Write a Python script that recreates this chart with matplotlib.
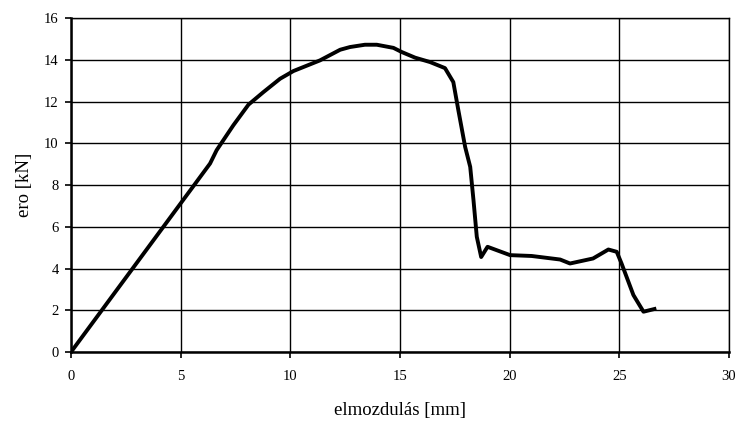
import matplotlib.pyplot as plt

# elmozdulas [mm] vs ero [kN]
x = [0, 6.34, 6.64, 7.4, 8.09, 8.77, 9.53, 10.14, 11.35, 12.27, 12.72, 13.4, 13.94,
     14.7, 15.08, 15.69, 16.37, 17.05, 17.43, 17.66, 17.97, 18.2, 18.35, 18.5, 18.7,
     18.99, 20.02, 21.0, 22.3, 22.75, 23.8, 24.5, 24.88, 25.1, 25.64, 26.1, 26.6]
y = [0, 9.03, 9.67, 10.86, 11.85, 12.45, 13.09, 13.46, 13.97, 14.48, 14.61, 14.72, 14.72,
     14.57, 14.37, 14.1, 13.89, 13.6, 12.93, 11.58, 9.82, 8.87, 7.27, 5.52, 4.55,
     5.04, 4.64, 4.6, 4.43, 4.24, 4.48, 4.91, 4.8, 4.24, 2.73, 1.93, 2.06]

xticks = [0, 5, 10, 15, 20, 25, 30]
yticks = [0, 2, 4, 6, 8, 10, 12, 14, 16]

plt.rcParams['font.family'] = 'Liberation Serif'

fig = plt.figure(figsize=(7.39, 4.21), dpi=100)
ax = fig.add_axes([0.0961, 0.1639, 0.8904, 0.7933])

ax.plot(x, y, color='black', linewidth=2.8, solid_joinstyle='round')

ax.set_xlim(0, 30)
ax.set_ylim(0, 16)
ax.set_xticks(xticks)
ax.set_yticks(yticks)
ax.grid(True, color='black', linewidth=1.0)
ax.set_axisbelow(True)

for side in ['top', 'right']:
    ax.spines[side].set_visible(True)
    ax.spines[side].set_linewidth(1.0)
for side in ['left', 'bottom']:
    ax.spines[side].set_linewidth(1.8)

ax.tick_params(axis='both', direction='out', length=4, width=1.2, color='black',
               labelsize=10.5)
ax.tick_params(axis='x', pad=9)
ax.tick_params(axis='y', pad=5)

ax.set_xlabel('elmozdulás [mm]', fontsize=13.5, labelpad=14)
ax.set_ylabel('ero [kN]', fontsize=13.5, labelpad=8)

fig.savefig('out.png', dpi=100)
